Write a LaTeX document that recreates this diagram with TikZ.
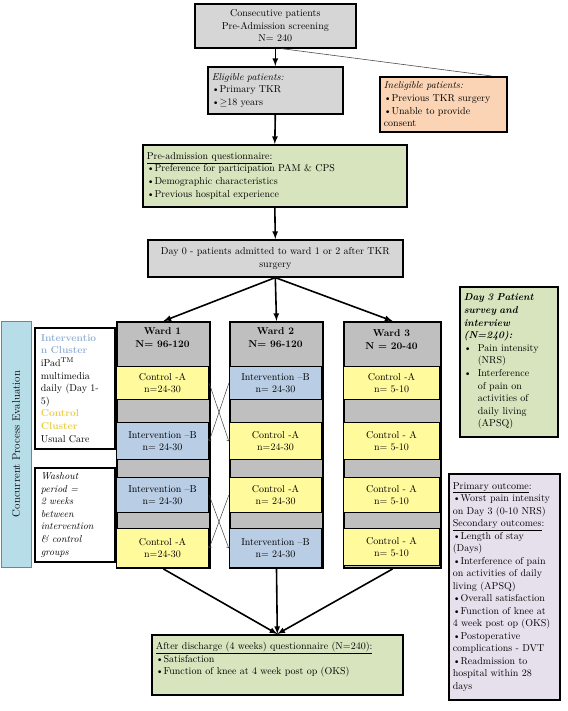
\documentclass[tikz,border=0pt]{standalone}
\usepackage{tikz}
\usetikzlibrary{arrows,calc}

\definecolor{screengray}{HTML}{D6D6D6}
\definecolor{wardgray}{HTML}{BFBFBF}
\definecolor{ctrlyellow}{HTML}{FFFA9C}
\definecolor{intblue}{HTML}{B9CDE5}
\definecolor{qgreen}{HTML}{D7E4BD}
\definecolor{exclsalmon}{HTML}{FAD4B4}
\definecolor{outlav}{HTML}{E6E0EC}
\definecolor{cpeblue}{HTML}{B7DEE8}
\definecolor{inttext}{HTML}{95B3D7}
\definecolor{ctrltext}{HTML}{EBCF45}

\tikzset{
  flowbox/.style={draw=black, line width=1.6pt, anchor=north west, inner sep=4pt},
  textbox/.style={flowbox, align=left},
  slotbox/.style={draw=black, line width=1.4pt, anchor=north, align=center, minimum width=92pt},
  wardcol/.style={draw=black, line width=2pt, fill=wardgray, anchor=north west, minimum width=93pt, minimum height=246pt},
  flowarrow/.style={->, >=latex, line width=1.6pt},
  swaparrow/.style={->, line width=0.5pt, black!75},
}

\begin{document}
\begin{tikzpicture}[x=1pt, y=-1pt, font=\fontsize{10}{12.6}\selectfont]

\useasboundingbox (0,0) rectangle (567,711);

% screening
\node[flowbox, fill=screengray, minimum width=161pt, minimum height=44pt, align=center] (screen) at (194,3) {Consecutive patients\\Pre-Admission screening\\N= 240};
\node[textbox, fill=screengray, text width=127pt, minimum height=47pt] (elig) at (207,66) {\textit{Eligible patients:}\\\textbullet Primary TKR\\\textbullet$\geq$18 years};
\node[textbox, fill=exclsalmon, text width=119pt, minimum height=55pt] (inelig) at (379,76) {\textit{Ineligible patients:}\\\textbullet Previous TKR surgery\\\textbullet Unable to provide\\consent};

\node[textbox, fill=qgreen, text width=256pt, minimum height=62pt] (preq) at (142,144) {\underline{Pre-admission questionnaire:}\\\textbullet Preference for participation PAM \& CPS\\\textbullet Demographic characteristics\\\textbullet Previous hospital experience};
\node[flowbox, fill=screengray, text width=247pt, minimum height=37pt, align=center] (day0) at (147,239) {Day 0 - patients admitted to ward 1 or 2 after TKR\\surgery};

\draw[flowarrow] (screen.south) -- (elig.north);
\draw[line width=0.6pt, black!70] ($(screen.south)+(6,0)$) -- ($(inelig.north east)+(-16,0)$);
\draw[flowarrow] (elig.south) -- (preq.north);
\draw[flowarrow] (preq.south) -- (day0.north);

% wards
\node[wardcol] (w1) at (116,321) {};
\node[wardcol] (w2) at (229,321) {};
\node[wardcol, minimum width=97pt] (w3) at (343,321) {};

\node[anchor=north, align=center] (w1-head) at (162.5,324) {\textbf{Ward 1}\\\textbf{N= 96-120}};
\node[anchor=north, align=center] (w2-head) at (275.5,324) {\textbf{Ward 2}\\\textbf{N= 96-120}};
\node[anchor=north, align=center] (w3-head) at (391.5,326) {\textbf{Ward 3}\\\textbf{N = 20-40}};

\foreach \s/\t/\h/\col/\lab in {1/366/33/ctrlyellow/{Control -A\\n=24-30},
    2/422/37/intblue/{Intervention --B\\n= 24-30},
    3/477/35/intblue/{Intervention --B\\n= 24-30},
    4/528/39/ctrlyellow/{Control -A\\n=24-30}}
  \node[slotbox, fill=\col, minimum height=\h pt] (w1-\s) at (162.5,\t) {\lab};

\foreach \s/\t/\h/\col/\lab in {1/366/33/intblue/{Intervention --B\\n= 24-30},
    2/422/37/ctrlyellow/{Control -A\\n=24-30},
    3/477/35/ctrlyellow/{Control -A\\n= 24-30},
    4/528/39/intblue/{Intervention --B\\n= 24-30}}
  \node[slotbox, fill=\col, minimum height=\h pt] (w2-\s) at (275.5,\t) {\lab};

\foreach \s/\t/\h/\col/\lab in {1/366/33/ctrlyellow/{Control -A\\n= 5-10},
    2/422/37/ctrlyellow/{Control - A\\n= 5-10},
    3/477/35/ctrlyellow/{Control - A\\n= 5-10},
    4/528/37/ctrlyellow/{Control - A\\n= 5-10}}
  \node[slotbox, fill=\col, minimum width=96pt, minimum height=\h pt] (w3-\s) at (391.5,\t) {\lab};

\draw[swaparrow] (w1-1.east) -- (w2-2.west);
\draw[swaparrow] (w2-1.west) -- (w1-2.east);
\draw[swaparrow] (w1-3.east) -- (w2-4.west);
\draw[swaparrow] (w2-3.west) -- (w1-4.east);

\draw[flowarrow] (day0.south) -- (w1.north);
\draw[flowarrow] (day0.south) -- (w2.north);
\draw[flowarrow] (day0.south) -- (w3.north);

% follow-up
\node[textbox, fill=qgreen, text width=243pt, minimum height=60pt] (final) at (151,634) {\underline{After discharge (4 weeks) questionnaire (N=240):}\\\textbullet Satisfaction\\\textbullet Function of knee at 4 week post op (OKS)\\\mbox{}};

\draw[flowarrow] (w1.south) -- (final.north);
\draw[flowarrow] (w2.south) -- (final.north);
\draw[flowarrow] (w3.south) -- (final.north);

% left side
\node[draw=gray, line width=0.8pt, fill=cpeblue, rotate=90, minimum width=246pt, minimum height=30pt, font=\fontsize{11}{13}\selectfont] (cpe) at (16,444) {Concurrent Process Evaluation};
\node[textbox, fill=white, inner xsep=6pt, text width=68pt, minimum height=121pt] (legend) at (34,327) {\textcolor{inttext}{\textbf{Interventio}}\\\textcolor{inttext}{\textbf{n Cluster}}\\iPad\textsuperscript{TM}\\multimedia\\daily (Day 1-\\5)\\\textcolor{ctrltext}{\textbf{Control}}\\\textcolor{ctrltext}{\textbf{Cluster}}\\Usual Care};
\node[textbox, fill=white, inner xsep=6pt, text width=68pt, minimum height=94pt] (washout) at (34,467) {\textit{Washout}\\\textit{period =}\\\textit{2 weeks}\\\textit{between}\\\textit{intervention}\\\textit{\& control}\\\textit{groups}};

% right side
\node[textbox, fill=qgreen, text width=90pt, minimum height=150pt] (day3) at (459,286) {\textbf{\textit{Day 3 Patient}}\\\textbf{\textit{survey and}}\\\textbf{\textit{interview}}\\\textbf{\textit{(N=240):}}\\\makebox[14pt][l]{\textbullet}Pain intensity\\\hspace*{14pt}(NRS)\\\makebox[14pt][l]{\textbullet}Interference\\\hspace*{14pt}of pain on\\\hspace*{14pt}activities of\\\hspace*{14pt}daily living\\\hspace*{14pt}(APSQ)};
\node[textbox, fill=outlav, text width=103pt, minimum height=226pt, font=\fontsize{10}{12.5}\selectfont] (outcomes) at (448,473) {\underline{Primary outcome}:\\\textbullet Worst pain intensity\\on Day 3 (0-10 NRS)\\\underline{Secondary outcomes}:\\\textbullet Length of stay\\(Days)\\\textbullet Interference of pain\\on activities of daily\\living (APSQ)\\\textbullet Overall satisfaction\\\textbullet Function of knee at\\4 week post op (OKS)\\\textbullet Postoperative\\complications - DVT\\\textbullet Readmission to\\hospital within 28\\days};

\end{tikzpicture}
\end{document}
